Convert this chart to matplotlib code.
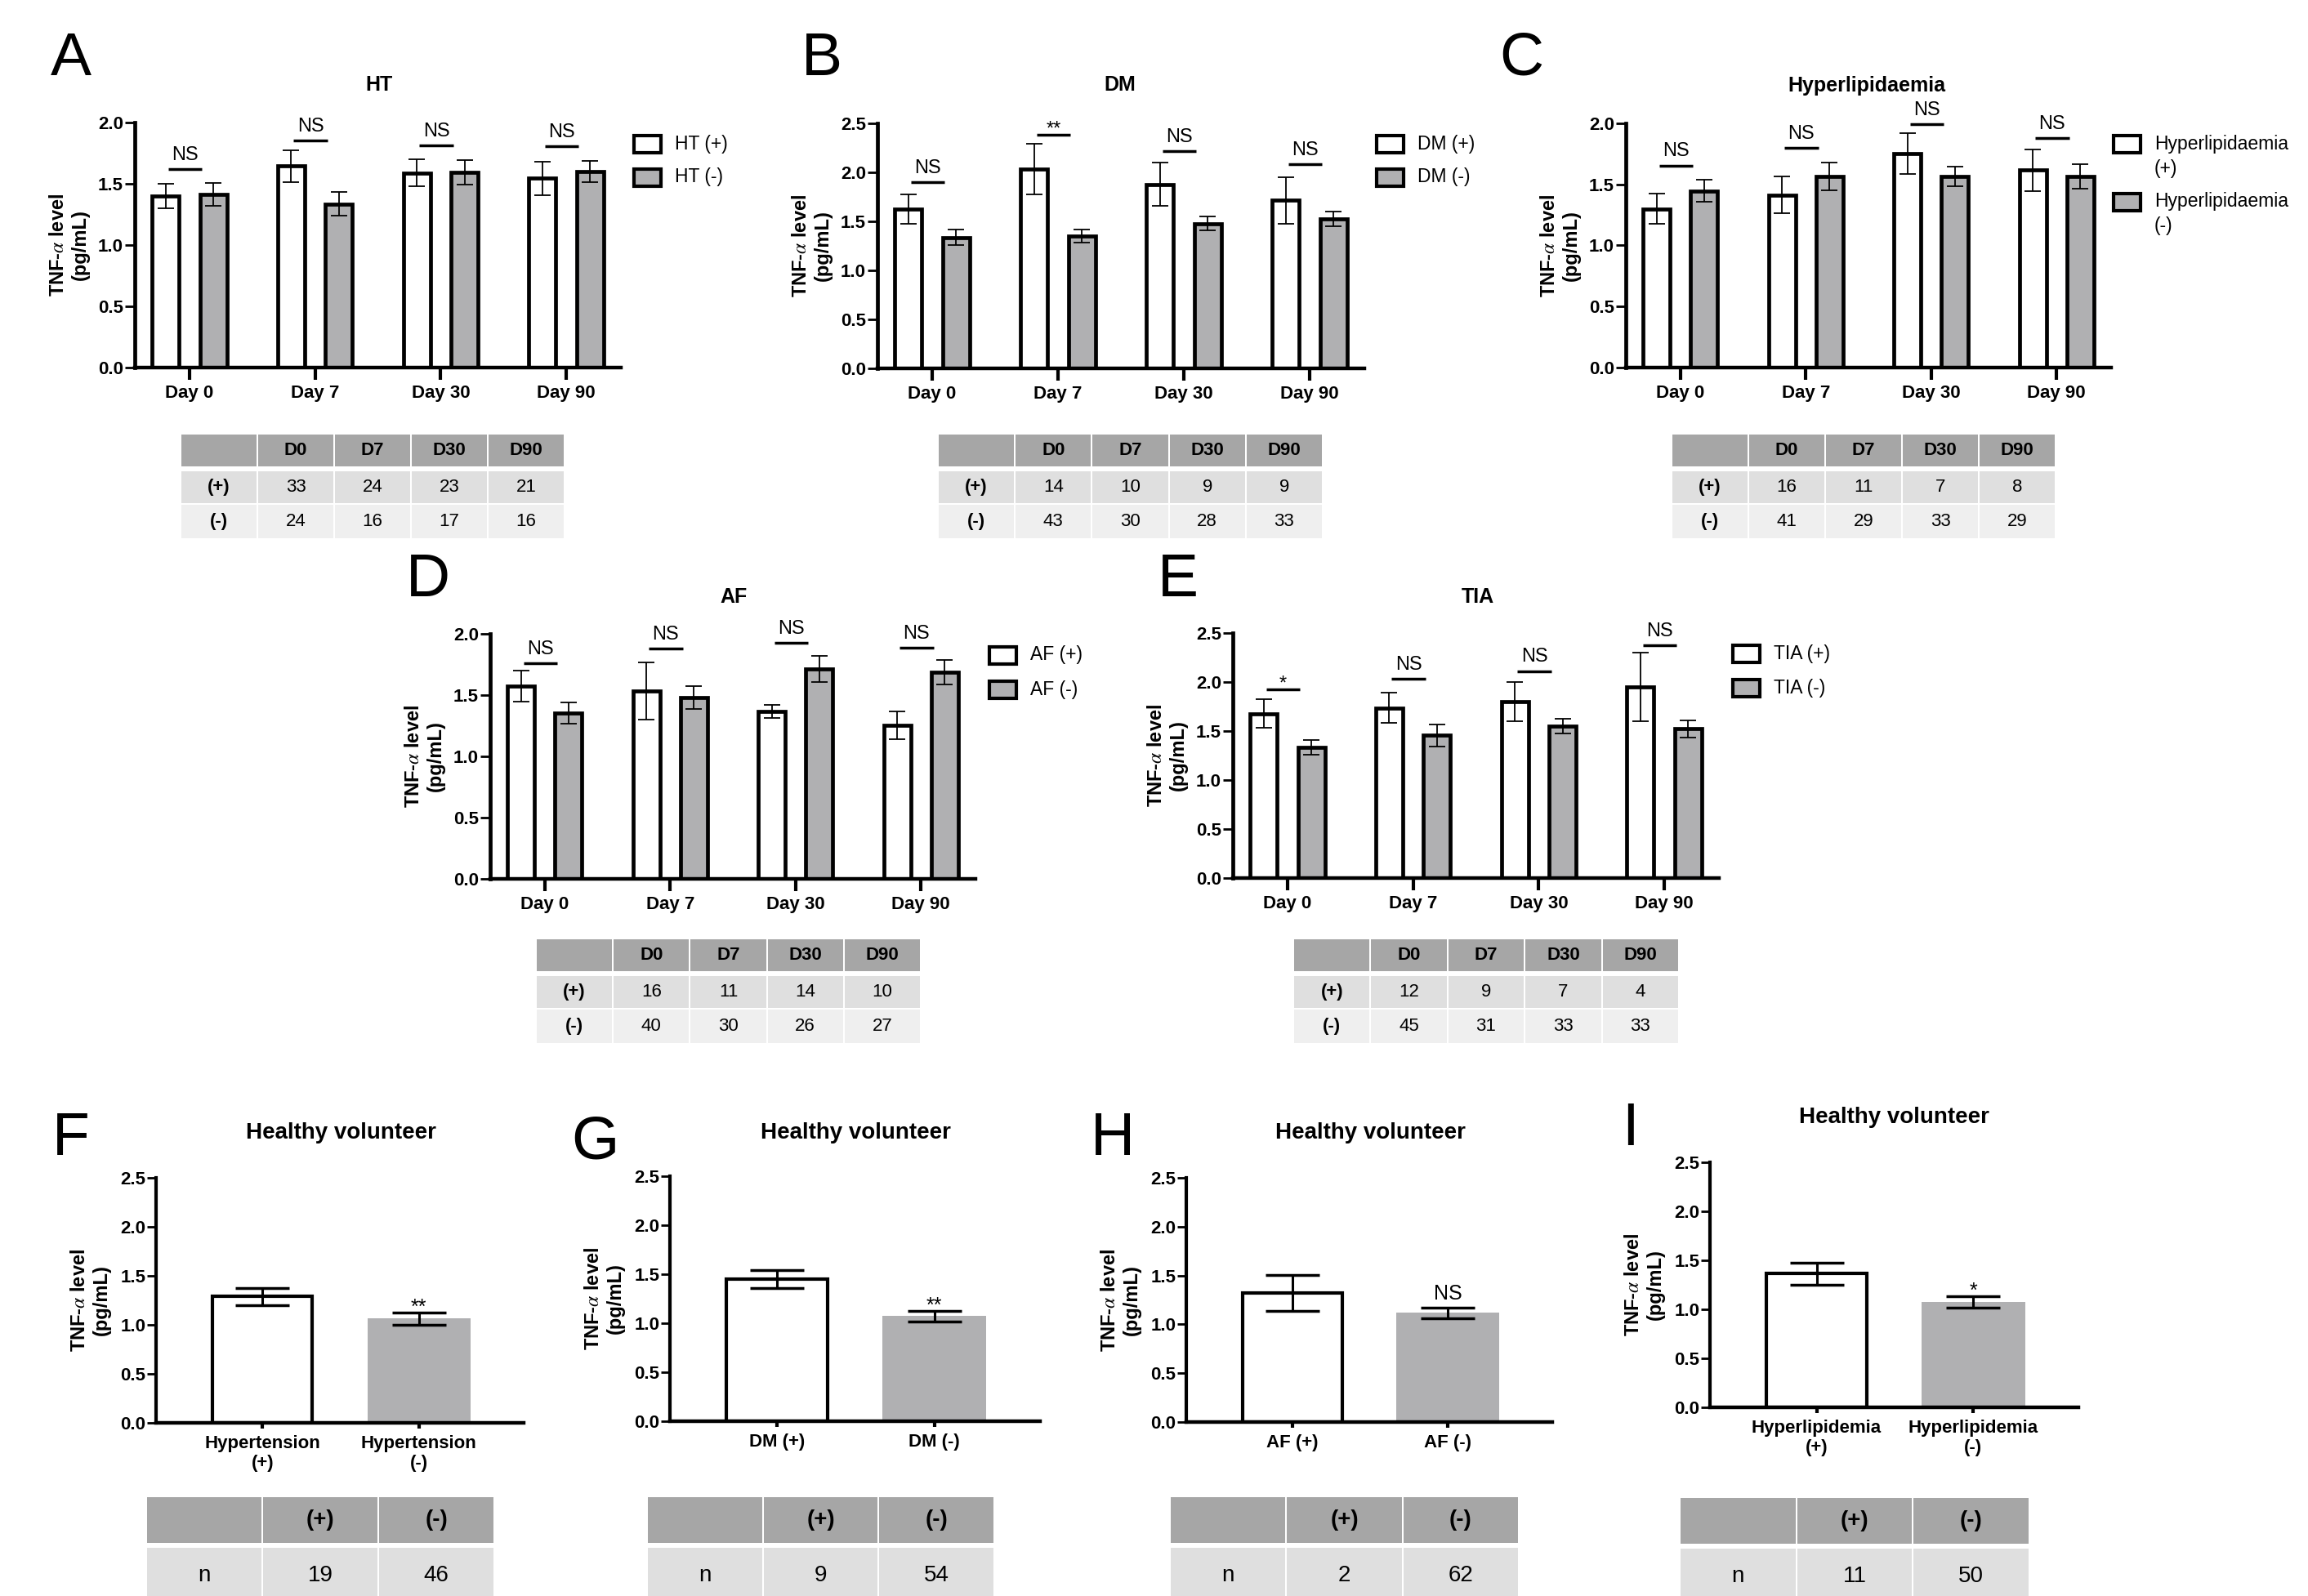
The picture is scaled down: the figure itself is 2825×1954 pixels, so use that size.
import numpy as np
import matplotlib.pyplot as plt
from matplotlib.patches import Rectangle
from matplotlib.ticker import FormatStrFormatter

plt.rcParams['font.family'] = ['Liberation Sans', 'DejaVu Sans']
plt.rcParams['mathtext.fontset'] = 'stix'

# ---- data ----
days = ['Day 0', 'Day 7', 'Day 30', 'Day 90']
day_cols = ['D0', 'D7', 'D30', 'D90']

# A: HT
ht_pos = [1.40, 1.645, 1.59, 1.545]
ht_pos_err = [0.10, 0.13, 0.107, 0.135]
ht_neg = [1.415, 1.335, 1.595, 1.60]
ht_neg_err = [0.093, 0.097, 0.10, 0.085]
ht_sig = ['NS', 'NS', 'NS', 'NS']
ht_sig_y = [1.62, 1.855, 1.812, 1.806]
ht_n_pos = [33, 24, 23, 21]
ht_n_neg = [24, 16, 17, 16]

# B: DM
dm_pos = [1.623, 2.031, 1.876, 1.714]
dm_pos_err = [0.15, 0.26, 0.22, 0.24]
dm_neg = [1.335, 1.349, 1.479, 1.522]
dm_neg_err = [0.079, 0.065, 0.069, 0.076]
dm_sig = ['NS', '**', 'NS', 'NS']
dm_sig_y = [1.901, 2.381, 2.219, 2.081]
dm_n_pos = [14, 10, 9, 9]
dm_n_neg = [43, 30, 28, 33]

# C: Hyperlipidaemia
hl_pos = [1.30, 1.414, 1.753, 1.617]
hl_pos_err = [0.122, 0.148, 0.167, 0.169]
hl_neg = [1.448, 1.565, 1.565, 1.565]
hl_neg_err = [0.092, 0.115, 0.083, 0.099]
hl_sig = ['NS', 'NS', 'NS', 'NS']
hl_sig_y = [1.655, 1.797, 1.991, 1.878]
hl_n_pos = [16, 11, 7, 8]
hl_n_neg = [41, 29, 33, 29]

# D: AF
af_pos = [1.573, 1.534, 1.365, 1.254]
af_pos_err = [0.125, 0.235, 0.053, 0.112]
af_neg = [1.354, 1.481, 1.713, 1.684]
af_neg_err = [0.086, 0.094, 0.106, 0.10]
af_sig = ['NS', 'NS', 'NS', 'NS']
af_sig_y = [1.758, 1.881, 1.924, 1.884]
af_n_pos = [16, 11, 14, 10]
af_n_neg = [40, 30, 26, 27]

# E: TIA
tia_pos = [1.678, 1.737, 1.799, 1.947]
tia_pos_err = [0.143, 0.155, 0.199, 0.349]
tia_neg = [1.332, 1.457, 1.549, 1.523]
tia_neg_err = [0.077, 0.112, 0.078, 0.086]
tia_sig = ['*', 'NS', 'NS', 'NS']
tia_sig_y = [1.924, 2.030, 2.112, 2.375]
tia_n_pos = [12, 9, 7, 4]
tia_n_neg = [45, 31, 33, 33]

# F-I: healthy volunteers
f_labels = ['Hypertension\n(+)', 'Hypertension\n(-)']
f_mean = [1.289, 1.063]
f_err = [0.085, 0.063]
f_n = [19, 46]
g_labels = ['DM (+)', 'DM (-)']
g_mean = [1.452, 1.071]
g_err = [0.091, 0.056]
g_n = [9, 54]
h_labels = ['AF (+)', 'AF (-)']
h_mean = [1.319, 1.117]
h_err = [0.184, 0.054]
h_n = [2, 62]
i_labels = ['Hyperlipidemia\n(+)', 'Hyperlipidemia\n(-)']
i_mean = [1.363, 1.073]
i_err = [0.111, 0.057]
i_n = [11, 50]

# ---- style ----
W, H = 2825, 1954
GREY = '#b0b0b2'
HEAD = '#a6a6a6'
ROW1 = '#dfdfdf'
ROW2 = '#efefef'
YLABEL = 'TNF-$\\alpha$ level\n(pg/mL)'

fig = plt.figure(figsize=(W / 100, H / 100), dpi=100)


def frac(x0, y0, x1, y1):
    return [x0 / W, 1 - y1 / H, (x1 - x0) / W, (y1 - y0) / H]


def ftext(x, y, s, **kw):
    fig.text(x / W, 1 - y / H, s, **kw)


def style_axes(ax, ymax, width_px, left_lw, bottom_lw):
    for s in ['top', 'right']:
        ax.spines[s].set_visible(False)
    ax.spines['left'].set_linewidth(left_lw)
    ax.spines['bottom'].set_linewidth(bottom_lw)
    ax.set_ylim(0, ymax)
    ax.set_yticks(np.arange(0, ymax + 0.01, 0.5))
    ax.yaxis.set_major_formatter(FormatStrFormatter('%.1f'))
    ax.set_ylabel(YLABEL, fontsize=17, fontweight='bold')
    ax.yaxis.set_label_coords(-55 / width_px, 0.5)


def draw_table(x0, x1, row_edges, rows, fs, bold_first_col):
    # row_edges: (top, bottom) pixel pairs, one per row
    top, bottom = row_edges[0][0], row_edges[-1][1]
    ax = fig.add_axes(frac(x0, top, x1, bottom))
    ax.set_xlim(x0, x1)
    ax.set_ylim(bottom, top)
    ax.axis('off')
    ncol = len(rows[0])
    cw = (x1 - x0) / ncol
    fills = [HEAD, ROW1, ROW2]
    for i, row in enumerate(rows):
        r0, r1 = row_edges[i]
        for j, val in enumerate(row):
            cx = x0 + j * cw
            ax.add_patch(Rectangle((cx + 1, r0), cw - 2, r1 - r0,
                                   facecolor=fills[i], edgecolor='none', clip_on=False))
            bold = i == 0 or (bold_first_col and j == 0)
            ax.text(cx + cw / 2, (r0 + r1) / 2, str(val), ha='center', va='center',
                    fontsize=fs, fontweight='bold' if bold else 'normal')


def draw_legend(x_box, ys, labels, fills):
    for y, lab, c in zip(ys, labels, fills):
        fig.add_artist(Rectangle((x_box / W, 1 - (y + 10.5) / H), 33 / W, 21 / H,
                                 transform=fig.transFigure, facecolor=c,
                                 edgecolor='black', lw=3))
        for k, line in enumerate(lab.split('\n')):
            ftext(x_box + 50, y + 30 * k, line, fontsize=16.5, va='center', ha='left')


def day_panel(box, ymax, pos, pos_err, neg, neg_err, sig, sig_y, title, title_xy,
              letter, letter_xy, leg_x, leg_ys, leg_labels, tab_x, tab_y, n_pos, n_neg):
    ax = fig.add_axes(frac(*box))
    x = np.arange(len(days))
    off, bw = 0.19, 0.215
    ekw = dict(ecolor='black', elinewidth=1.3, capsize=7.5, capthick=1.3)
    ax.bar(x - off, pos, bw, color='white', edgecolor='black', lw=3.4,
           yerr=pos_err, error_kw=ekw, zorder=2)
    ax.bar(x + off, neg, bw, color=GREY, edgecolor='black', lw=3.4,
           yerr=neg_err, error_kw=ekw, zorder=2)
    for xi, s, ys in zip(x, sig, sig_y):
        ax.plot([xi - 0.17, xi + 0.10], [ys, ys], color='black', lw=2.5,
                solid_capstyle='butt', clip_on=False)
        dy = 8 if s == 'NS' else 0.5
        ax.annotate(s, xy=(xi - 0.035, ys), xytext=(0, dy), textcoords='offset points',
                    ha='center', va='baseline', fontsize=17, annotation_clip=False)
    ax.set_xlim(-0.435, 3.435)
    ax.set_xticks(x)
    ax.set_xticklabels(days, fontsize=16, fontweight='bold')
    style_axes(ax, ymax, box[2] - box[0], 3.4, 3.2)
    ax.tick_params(axis='x', length=11, width=3, pad=4)
    ax.tick_params(axis='y', length=9, width=2, pad=1, labelsize=16)
    for t in ax.get_yticklabels():
        t.set_fontweight('bold')
    ftext(*title_xy, title, fontsize=18, fontweight='bold', ha='center', va='center')
    ftext(*letter_xy, letter, fontsize=54, ha='center', va='center')
    draw_legend(leg_x, leg_ys, leg_labels, ['white', GREY])
    rows = [[''] + day_cols, ['(+)'] + n_pos, ['(-)'] + n_neg]
    edges = [(tab_y, tab_y + 39), (tab_y + 45, tab_y + 84), (tab_y + 86, tab_y + 127)]
    draw_table(tab_x[0], tab_x[1], edges, rows, 16, True)


def hv_panel(box, labels, mean, err, sig, sig_dy, title_xy, letter, letter_xy,
             tab_x, tab_y, n):
    ax = fig.add_axes(frac(*box))
    x = np.arange(2)
    ekw = dict(ecolor='black', elinewidth=2.2, capsize=24, capthick=2.5)
    ax.bar(x[0], mean[0], 0.64, color='white', edgecolor='black', lw=3,
           yerr=err[0], error_kw=ekw, zorder=2)
    ax.bar(x[1], mean[1], 0.66, color=GREY, edgecolor='none',
           yerr=err[1], error_kw=ekw, zorder=2)
    ax.annotate(sig, xy=(x[1], mean[1] + err[1]), xytext=(0, sig_dy),
                textcoords='offset points', ha='center', va='baseline', fontsize=18)
    ax.set_xlim(-0.68, 1.67)
    ax.set_xticks(x)
    ax.set_xticklabels(labels, fontsize=16, fontweight='bold', linespacing=1.15)
    style_axes(ax, 2.5, box[2] - box[0], 3, 3.2)
    ax.tick_params(axis='x', length=5, width=3, pad=6)
    ax.tick_params(axis='y', length=8, width=2, pad=1, labelsize=16)
    for t in ax.get_yticklabels():
        t.set_fontweight('bold')
    ftext(*title_xy, 'Healthy volunteer', fontsize=20, fontweight='bold',
          ha='center', va='center')
    ftext(*letter_xy, letter, fontsize=54, ha='center', va='center')
    edges = [(tab_y, tab_y + 56), (tab_y + 62, tab_y + 130)]
    draw_table(tab_x[0], tab_x[1], edges, [['', '(+)', '(-)'], ['n'] + n], 20, False)


day_panel((165, 150, 760, 450), 2.0, ht_pos, ht_pos_err, ht_neg, ht_neg_err,
          ht_sig, ht_sig_y, 'HT', (464, 104), 'A', (87, 72),
          776, [176, 217], ['HT (+)', 'HT (-)'], (221, 691), 532,
          ht_n_pos, ht_n_neg)
day_panel((1074, 151, 1670, 451), 2.5, dm_pos, dm_pos_err, dm_neg, dm_neg_err,
          dm_sig, dm_sig_y, 'DM', (1371, 104), 'B', (1006, 72),
          1685, [176, 217], ['DM (+)', 'DM (-)'], (1148, 1619), 532,
          dm_n_pos, dm_n_neg)
day_panel((1990, 151, 2584, 450), 2.0, hl_pos, hl_pos_err, hl_neg, hl_neg_err,
          hl_sig, hl_sig_y, 'Hyperlipidaemia', (2285, 105), 'C', (1862, 72),
          2587, [176, 247], ['Hyperlipidaemia\n(+)', 'Hyperlipidaemia\n(-)'],
          (2046, 2516), 532, hl_n_pos, hl_n_neg)
day_panel((600, 776, 1194, 1076), 2.0, af_pos, af_pos_err, af_neg, af_neg_err,
          af_sig, af_sig_y, 'AF', (898, 731), 'D', (524, 710),
          1211, [802, 844], ['AF (+)', 'AF (-)'], (656, 1127), 1150,
          af_n_pos, af_n_neg)
day_panel((1509, 775, 2104, 1075), 2.5, tia_pos, tia_pos_err, tia_neg, tia_neg_err,
          tia_sig, tia_sig_y, 'TIA', (1809, 731), 'E', (1442, 710),
          2121, [800, 842], ['TIA (+)', 'TIA (-)'], (1583, 2055), 1150,
          tia_n_pos, tia_n_neg)

hv_panel((191, 1442, 641, 1742), f_labels, f_mean, f_err, '**', -1,
         (417, 1387), 'F', (87, 1395), (179, 605), 1833, f_n)
hv_panel((820, 1440, 1273, 1740), g_labels, g_mean, g_err, '**', -1,
         (1047, 1387), 'G', (728, 1399), (792, 1217), 1833, g_n)
hv_panel((1452, 1442, 1900, 1741), h_labels, h_mean, h_err, 'NS', 7,
         (1677, 1387), 'H', (1362, 1395), (1432, 1859), 1833, h_n)
hv_panel((2093, 1423, 2544, 1723), i_labels, i_mean, i_err, '*', 0,
         (2318, 1368), 'I', (1995, 1383), (2056, 2484), 1834, i_n)

fig.savefig('out.png', dpi=100)
